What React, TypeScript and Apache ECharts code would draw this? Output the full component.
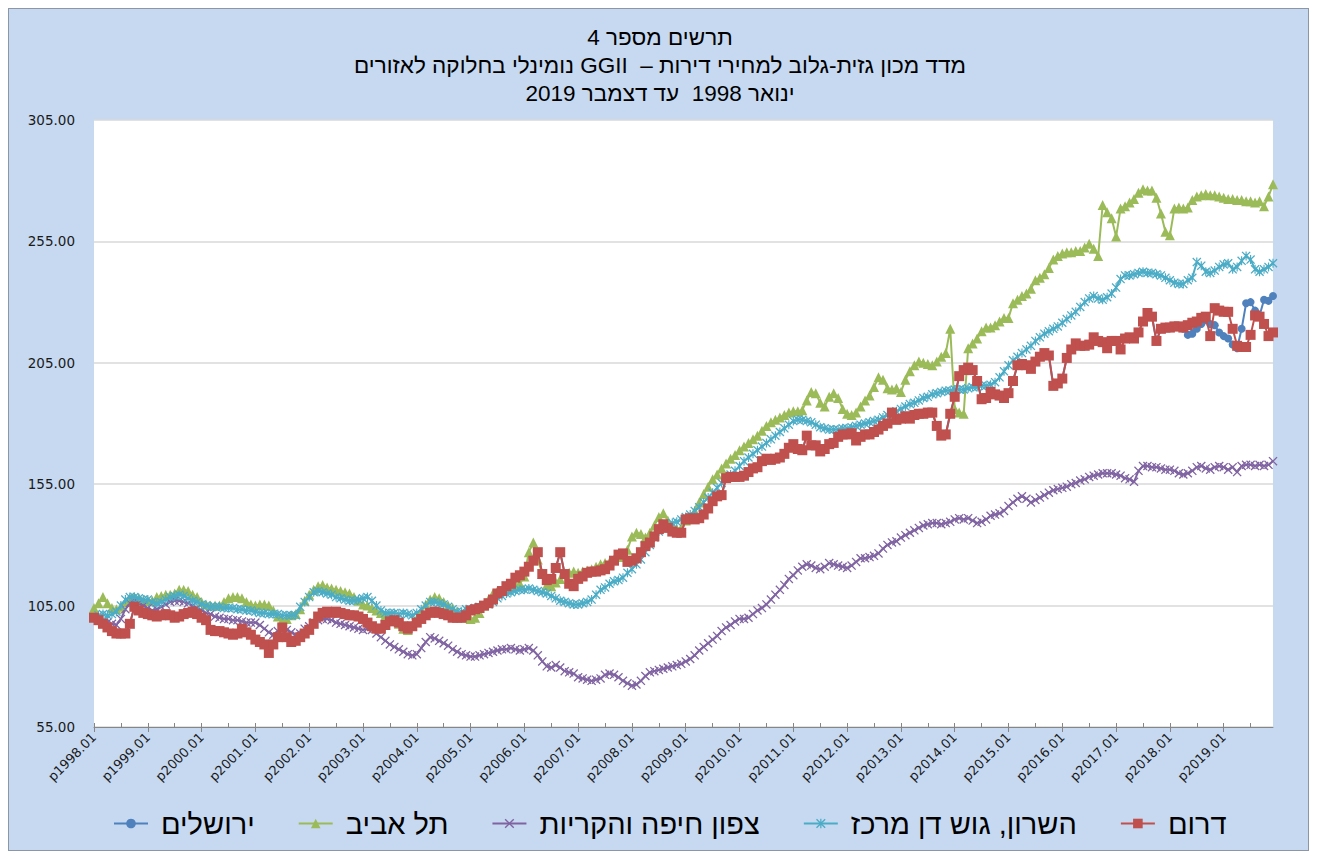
import React, { useEffect, useRef } from "react";
import * as echarts from "echarts";

// ---------- categories / labels ----------
const years = [1998, 1999, 2000, 2001, 2002, 2003, 2004, 2005, 2006, 2007, 2008, 2009, 2010, 2011, 2012, 2013, 2014, 2015, 2016, 2017, 2018, 2019];
const monthCodes = ["01", "02", "03", "04", "05", "06", "07", "08", "09", "10", "11", "12"];
const categories: string[] = [];
years.forEach((y) => monthCodes.forEach((m) => categories.push(`p${y}.${m}`)));

const titleLine1 = "תרשים מספר 4";
const titleLine2 = "מדד מכון גזית-גלוב למחירי דירות –  GGII נומינלי בחלוקה לאזורים";
const titleLine3 = "ינואר 1998  עד דצמבר 2019";

const seriesNames = ["ירושלים", "תל אביב", "צפון חיפה והקריות", "השרון, גוש דן מרכז", "דרום"];
const seriesColors = ["#4F81BD", "#9BBB59", "#8064A2", "#4BACC6", "#C0504D"];

const yMin = 55;
const yMax = 305;
const yStep = 50;

// ---------- series values (monthly, Jan 1998 - Dec 2019) ----------
const jerusalem = [
  100, 99, 97.5, 96, 94.5, 93.5, 93.5, 93.5, 97.5, 104.5, 103, 102,
  101.5, 101, 100.5, 101, 101.5, 101, 100, 100.5, 101.5, 102, 102.5, 101.5,
  100, 99, 95, 94.5, 94.5, 94, 93.5, 93, 93.5, 95.5, 94, 93,
  91, 90, 89, 85.5, 89, 92, 96, 92, 90, 90.5, 92, 93.5,
  95, 97.5, 100.5, 102, 102.5, 102, 102.5, 102, 101.5, 101, 101, 100.5,
  99.5, 98, 96.5, 95.5, 95.5, 97, 98.5, 99, 98, 96.5, 95.5, 96.5,
  98, 99.5, 101, 102, 102.5, 102, 101.5, 101, 100, 100, 100, 101,
  103, 103.5, 104, 105, 106, 107.5, 110, 111, 113, 114, 116.5, 117.5,
  119, 121, 123.5, 127, 118, 115.5, 116, 120.5, 127, 118, 114, 113,
  116, 117, 118.5, 119, 119, 119.5, 120, 121.5, 123.5, 126, 126.5, 123,
  123.5, 124.5, 127, 129.5, 131, 133.5, 136.5, 138.5, 137, 135.5, 135, 135,
  140.5, 141, 140.5, 141, 142.5, 145, 148, 150, 150.5, 157.5, 158, 158,
  158, 158.5, 160, 161.5, 162, 164.5, 165.5, 165, 165.5, 166, 167.5, 170,
  171.5, 169.5, 169, 175, 171, 171, 168.5, 169.5, 171.5, 172, 174.5, 175.5,
  175.5, 176, 173, 174.5, 175.5, 175.5, 176.5, 177.5, 179, 180, 184.5, 181.5,
  182, 183, 182, 183.5, 184, 184, 184.5, 184.5, 179, 175, 175.5, 184,
  191, 199.5, 202, 203, 202, 197.5, 190, 190.5, 193, 192, 191.5, 190.5,
  192.5, 197.5, 204, 204.5, 204, 202.5, 205.5, 207.5, 209, 208, 195.5, 196.5,
  198.5, 207, 210.5, 213, 212, 212, 212.5, 215.5, 214, 213.5, 211, 214,
  214, 210.5, 215, 215.5, 215, 217.5, 222, 225.5, 224, 214, 219, 219.5,
  219.5, 220, 220, 219, 216.5, 217, 219, 221, 222.5, 221, 220.5, 217.5,
  216, 215, 212.5, 211, 219, 229.5, 230, 226.5, 224.5, 231, 230.5, 232.5,
];

const telAviv = [
  104, 106, 108.5, 106, 104, 103.5, 104.5, 106.5, 108, 108.5, 108, 107,
  107, 107, 108.5, 109, 109.5, 109.5, 110, 111.5, 111.5, 111, 109.5, 108.5,
  106.5, 105.5, 105, 105, 105, 106.5, 108, 108.5, 108.5, 108, 106.5, 105.5,
  105, 105.5, 105.5, 105, 103, 100.5, 99, 99.5, 101, 101.5, 103.5, 107,
  109.5, 111.5, 113, 113.5, 112.5, 112, 111.5, 111, 110.5, 110, 108.5, 107,
  105.5, 105, 104, 103, 102, 101, 100, 99, 97.5, 95.5, 95, 97,
  99.5, 102.5, 105.5, 107.5, 108.5, 108, 106.5, 105, 104, 102.5, 101, 100,
  99.5, 100, 102, 105, 107.5, 110, 111, 111, 111.5, 113, 113.5, 114,
  117, 127, 131, 124, 118, 113.5, 113, 114.5, 116, 118, 118.5, 119,
  118.5, 119, 119.5, 120, 121, 122, 122.5, 123, 124, 125, 125.5, 128,
  133.5, 135, 134.5, 133, 135, 138, 141.5, 143, 140, 137.5, 136.5, 137,
  140, 141.5, 144, 147.5, 151, 154, 157, 159, 161.5, 163.5, 165.5, 167,
  169, 170.5, 172, 173.5, 175, 177, 179, 180.5, 181.5, 182.5, 183.5, 184.5,
  185, 185, 185.5, 189.5, 193, 192.5, 188.5, 187, 191, 192.5, 190.5, 186,
  184, 183.5, 184.5, 187, 189.5, 191.5, 195, 199, 198, 194.5, 194, 194.5,
  193, 198, 201.5, 204, 205.5, 205, 204.5, 204, 205.5, 207.5, 209, 219,
  186, 184.5, 184, 211, 213, 215, 218, 219.5, 219.5, 220.5, 222, 223.5,
  223.5, 229.5, 231, 232.5, 233.5, 235.5, 239, 240, 241.5, 244, 247.5, 249,
  250, 250.5, 250.5, 251, 251, 252.5, 254, 252, 249, 270, 267, 264.5,
  257, 268.5, 269.5, 271, 272.5, 275, 276.5, 276, 276, 273, 266.5, 259,
  257.5, 268.5, 269, 268.5, 269, 272, 273.5, 274, 274.5, 274, 274, 273.5,
  273, 272.5, 272.5, 272, 272, 271.5, 271.5, 271, 271.5, 269.5, 273.5, 278.5,
];

const haifa = [
  100, 99, 98.5, 98, 97.5, 97, 99.5, 103.5, 106, 106.5, 106, 105,
  104, 103, 103.5, 104.5, 105.5, 106.5, 107, 107, 106.5, 106, 105, 104,
  103, 102, 101.5, 100.5, 100, 99.5, 99.5, 99, 99, 98.5, 98, 98,
  98, 97, 95.5, 94, 93, 94.5, 96, 95, 94, 93, 93.5, 95.5,
  96.5, 98, 99, 99.5, 99.5, 99, 98, 97.5, 97, 96.5, 96, 95.5,
  95, 95.5, 95, 93.5, 92, 90.5, 89, 88, 87, 86, 85, 84.5,
  85, 87.5, 90, 92, 91.5, 90.5, 89.5, 88.5, 87, 86, 85, 84.5,
  84, 84, 84.5, 85, 85.5, 86, 86.5, 87, 87, 87.5, 87, 86.5,
  87, 87.5, 86.5, 84.5, 82, 80, 79.5, 80.5, 79.5, 78, 77.5, 77,
  75.5, 75, 74.5, 74, 74.5, 75, 76.5, 77, 76.5, 75.5, 74, 73,
  72, 72.5, 74, 76, 77.5, 78, 78.5, 79, 79.5, 80, 80.5, 81,
  82, 83, 84.5, 86.5, 88, 89.5, 91, 92.5, 94.5, 96, 97, 98.5,
  99.5, 99.5, 100, 101.5, 103, 104, 105.5, 107.5, 109.5, 111.5, 113.5, 116,
  117.5, 119.5, 121, 122, 121.5, 120.5, 120, 121, 122.5, 122, 121.5, 121,
  120.5, 121.5, 123, 124.5, 124.5, 125, 125.5, 126.5, 128.5, 130, 131, 131.5,
  133, 134, 135, 136, 137, 138, 138.5, 139, 139, 138.5, 139, 139.5,
  140.5, 141, 140.5, 141, 140, 139, 139.5, 140.5, 142, 142.5, 143, 144,
  146, 147.5, 149, 150, 149, 147.5, 148.5, 149.5, 150.5, 151.5, 152.5, 153,
  153.5, 154, 155, 155.5, 156.5, 157, 158, 158.5, 159, 159.5, 159.5, 159.5,
  159, 158.5, 157.5, 157, 156, 160.5, 162.5, 162.5, 162, 162, 161.5, 161,
  161, 160.5, 159.5, 159, 159.5, 160.5, 162, 162.5, 161.5, 161, 162, 162.5,
  162, 161, 162, 160, 162.5, 163, 163, 162.5, 163, 162.5, 163, 164.5,
];

const sharon = [
  100, 101, 101.5, 101, 101.5, 102.5, 105, 107.5, 108.5, 108.5, 108, 107.5,
  107.5, 106.5, 106, 106.5, 107.5, 108.5, 109, 109.5, 109, 108, 107, 106.5,
  105.5, 105, 104.5, 104.5, 104.5, 104, 104, 104, 103.5, 103.5, 103, 103,
  102.5, 102, 102, 101.5, 101.5, 101.5, 101, 101, 101, 101, 104.5, 106.5,
  108.5, 110.5, 111, 110.5, 110, 109.5, 108.5, 108, 107.5, 107, 107, 107.5,
  108, 108.5, 107, 105, 103, 102, 102, 102, 101.5, 102, 101.5, 101,
  102, 103.5, 105, 106.5, 106.5, 106, 105.5, 104.5, 103.5, 102.5, 102.5, 103.5,
  103.5, 104, 104.5, 105, 105.5, 106.5, 108, 109, 110, 110.5, 111, 111.5,
  111.5, 112, 111.5, 111, 110.5, 110, 109, 108, 107, 106.5, 106, 105.5,
  105.5, 106, 106.5, 107.5, 109.5, 111.5, 112.5, 114, 115, 115.5, 116.5, 118.5,
  120, 122, 124, 127, 130, 133, 135.5, 137, 138, 139, 139.5, 140.5,
  141.5, 142.5, 144, 145.5, 147.5, 149.5, 151.5, 153.5, 155.5, 157.5, 159, 160.5,
  162.5, 164.5, 166, 167.5, 169, 170.5, 172, 173.5, 175, 176.5, 178, 179.5,
  181, 181.5, 181.5, 181, 180.5, 179.5, 178.5, 178, 177.5, 177.5, 177.5, 178,
  178, 178.5, 179, 179.5, 180, 180.5, 181, 181.5, 182.5, 183.5, 184, 185,
  186, 187, 188, 188.5, 189.5, 190.5, 191, 192, 192.5, 193, 193.5, 193.5,
  194, 194, 194, 194.5, 195, 195, 195.5, 195.5, 196, 197, 199, 201.5,
  204, 206, 207.5, 209, 210.5, 212, 214, 215.5, 217, 218, 219, 220,
  221.5, 223, 224.5, 226, 228, 230, 231.5, 232.5, 231.5, 231, 232, 233.5,
  236, 239.5, 241, 241, 241.5, 242, 242.5, 242, 242, 241.5, 241, 240,
  239, 238, 237.5, 237.5, 239, 240, 246.5, 245, 242.5, 242, 243, 244.5,
  245.5, 246, 243.5, 244.5, 247, 249, 247.5, 243.5, 242.5, 243.5, 244.5, 246,
];

const south = [
  100, 99, 97.5, 96, 94.5, 93.5, 93.5, 93.5, 97.5, 104.5, 103, 102,
  101.5, 101, 100.5, 101, 101.5, 101, 100, 100.5, 101.5, 102, 102.5, 101.5,
  100, 99, 95, 94.5, 94.5, 94, 93.5, 93, 93.5, 95.5, 94, 93,
  91, 90, 89, 85.5, 89, 92, 96, 92, 90, 90.5, 92, 93.5,
  95, 97.5, 100.5, 102, 102.5, 102, 102.5, 102, 101.5, 101, 101, 100.5,
  99.5, 98, 96.5, 95.5, 95.5, 97, 98.5, 99, 98, 96.5, 95.5, 96.5,
  98, 99.5, 101, 102, 102.5, 102, 101.5, 101, 100, 100, 100, 101,
  103, 103.5, 104, 105, 106, 107.5, 110, 111, 113, 114, 116.5, 117.5,
  119, 121, 123.5, 127, 118, 115.5, 116, 120.5, 127, 118, 114, 113,
  116, 117, 118.5, 119, 119, 119.5, 120, 121.5, 123.5, 126, 126.5, 123,
  123.5, 124.5, 127, 129.5, 131, 133.5, 136.5, 138.5, 137, 135.5, 135, 135,
  140.5, 141, 140.5, 141, 142.5, 145, 148, 150, 150.5, 157.5, 158, 158,
  158, 158.5, 160, 161.5, 162, 164.5, 165.5, 165, 165.5, 166, 167.5, 170,
  171.5, 169.5, 169, 175, 171, 171, 168.5, 169.5, 171.5, 172, 174.5, 175.5,
  175.5, 176, 173, 174.5, 175.5, 175.5, 176.5, 177.5, 179, 180, 184.5, 181.5,
  182, 183, 182, 183.5, 184, 184, 184.5, 184.5, 179, 175, 175.5, 184,
  191, 199.5, 202, 203, 202, 197.5, 190, 190.5, 193, 192, 191.5, 190.5,
  192.5, 197.5, 204, 204.5, 204, 202.5, 205.5, 207.5, 209, 208, 195.5, 196.5,
  198.5, 207, 210.5, 213, 212, 212, 212.5, 215.5, 214, 213.5, 211, 214,
  214, 210.5, 215, 215.5, 215, 217.5, 222, 225.5, 224, 214, 219, 219.5,
  219.5, 220, 220, 219.5, 220.5, 221.5, 222, 223.5, 224, 216, 227.5, 226.5,
  226, 226, 219, 212, 211.5, 211.5, 216.5, 224.5, 224, 221, 216, 217.5,
];

const seriesValues = [jerusalem, telAviv, haifa, sharon, south];

const X_SYMBOL = "path://M1,0 L5,4 L9,0 L10,1 L6,5 L10,9 L9,10 L5,6 L1,10 L0,9 L4,5 L0,1 Z";
const STAR_SYMBOL =
  "path://M1,0 L5,4 L9,0 L10,1 L6,5 L10,9 L9,10 L5,6 L1,10 L0,9 L4,5 L0,1 Z M4.35,0 L5.65,0 L5.65,10 L4.35,10 Z";
const seriesSymbols = ["circle", "triangle", X_SYMBOL, STAR_SYMBOL, "rect"];
const seriesSymbolSizes = [8, 10, 9, 9, 10];

const AXIS_FONT = "'DejaVu Sans', Verdana, sans-serif";
const HEB_FONT = "'Liberation Sans', Arial, 'DejaVu Sans', sans-serif";

export default function App() {
  const ref = useRef<HTMLDivElement | null>(null);

  useEffect(() => {
    if (!ref.current) return;
    const el = ref.current;
    const chart = echarts.init(el, undefined, { renderer: "svg" });

    const series: any[] = seriesNames.map((name, i) => ({
      name,
      type: "line",
      xAxisIndex: 0,
      data: seriesValues[i],
      symbol: seriesSymbols[i],
      symbolSize: seriesSymbolSizes[i],
      showSymbol: true,
      showAllSymbol: true,
      lineStyle: { color: seriesColors[i], width: 2 },
      itemStyle: { color: seriesColors[i], borderWidth: 0 },
      emphasis: { disabled: true },
      z: 2 + i,
    }));

    const titleFont = `22.5px ${HEB_FONT}`;

    const option: any = {
      animation: false,
      backgroundColor: "#C6D9F1",
      textStyle: { fontFamily: HEB_FONT },
      graphic: [
        {
          type: "text",
          x: 651,
          y: 28.5,
          style: { text: titleLine1, font: titleFont, fill: "#000", align: "center", verticalAlign: "middle" },
        },
        {
          type: "text",
          x: 651,
          y: 56.5,
          style: { text: titleLine2, font: titleFont, fill: "#000", align: "center", verticalAlign: "middle" },
        },
        {
          type: "text",
          x: 651,
          y: 84.5,
          style: { text: titleLine3, font: titleFont, fill: "#000", align: "center", verticalAlign: "middle" },
        },
      ],
      legend: {
        data: seriesNames,
        left: 99,
        top: 795,
        itemWidth: 34,
        itemHeight: 12,
        itemGap: 43,
        textStyle: { fontFamily: HEB_FONT, fontSize: 29, color: "#000", padding: [0, 0, 0, 8] },
      },
      grid: {
        left: 85,
        right: 35,
        top: 111,
        bottom: 123,
        show: true,
        backgroundColor: "#FFFFFF",
        borderWidth: 0,
      },
      xAxis: [
        {
          type: "category",
          data: categories,
          boundaryGap: false,
          position: "bottom",
          axisLine: { show: true, onZero: false, lineStyle: { color: "#868686", width: 1 } },
          axisTick: { show: true, interval: 11, length: 5, lineStyle: { color: "#868686" } },
          axisLabel: {
            interval: 11,
            rotate: 45,
            margin: 8,
            fontFamily: AXIS_FONT,
            fontSize: 13,
            color: "#1a1a1a",
          },
          splitLine: { show: false },
        },
        {
          type: "category",
          data: categories,
          boundaryGap: false,
          position: "bottom",
          axisLine: { show: false, onZero: false },
          axisTick: { show: true, inside: true, interval: 5, length: 4, lineStyle: { color: "#868686" } },
          axisLabel: { show: false },
          splitLine: { show: false },
        },
      ],
      yAxis: {
        type: "value",
        min: yMin,
        max: yMax,
        interval: yStep,
        axisLine: { show: false },
        axisTick: { show: false },
        axisLabel: {
          formatter: (v: number) => v.toFixed(2),
          fontFamily: AXIS_FONT,
          fontSize: 13.5,
          color: "#1a1a1a",
          margin: 19,
        },
        splitLine: { show: true, lineStyle: { color: "#D9D9D9", width: 1.5 } },
      },
      series,
    };

    chart.setOption(option);

    const fixRtl = () => {
      el.querySelectorAll("text").forEach((t) => {
        const s = t.textContent || "";
        if (s.indexOf("GGII") >= 0) {
          t.setAttribute("direction", "rtl");
          (t as any).style.direction = "rtl";
        }
      });
    };
    fixRtl();
    chart.on("finished", fixRtl);

    return () => {
      chart.dispose();
    };
  }, []);

  return (
    <div
      style={{
        width: 1301,
        height: 843,
        boxSizing: "border-box",
        border: "1px solid #8C96A5",
        background: "#C6D9F1",
      }}
    >
      <div ref={ref} style={{ width: 1299, height: 841 }} />
    </div>
  );
}
